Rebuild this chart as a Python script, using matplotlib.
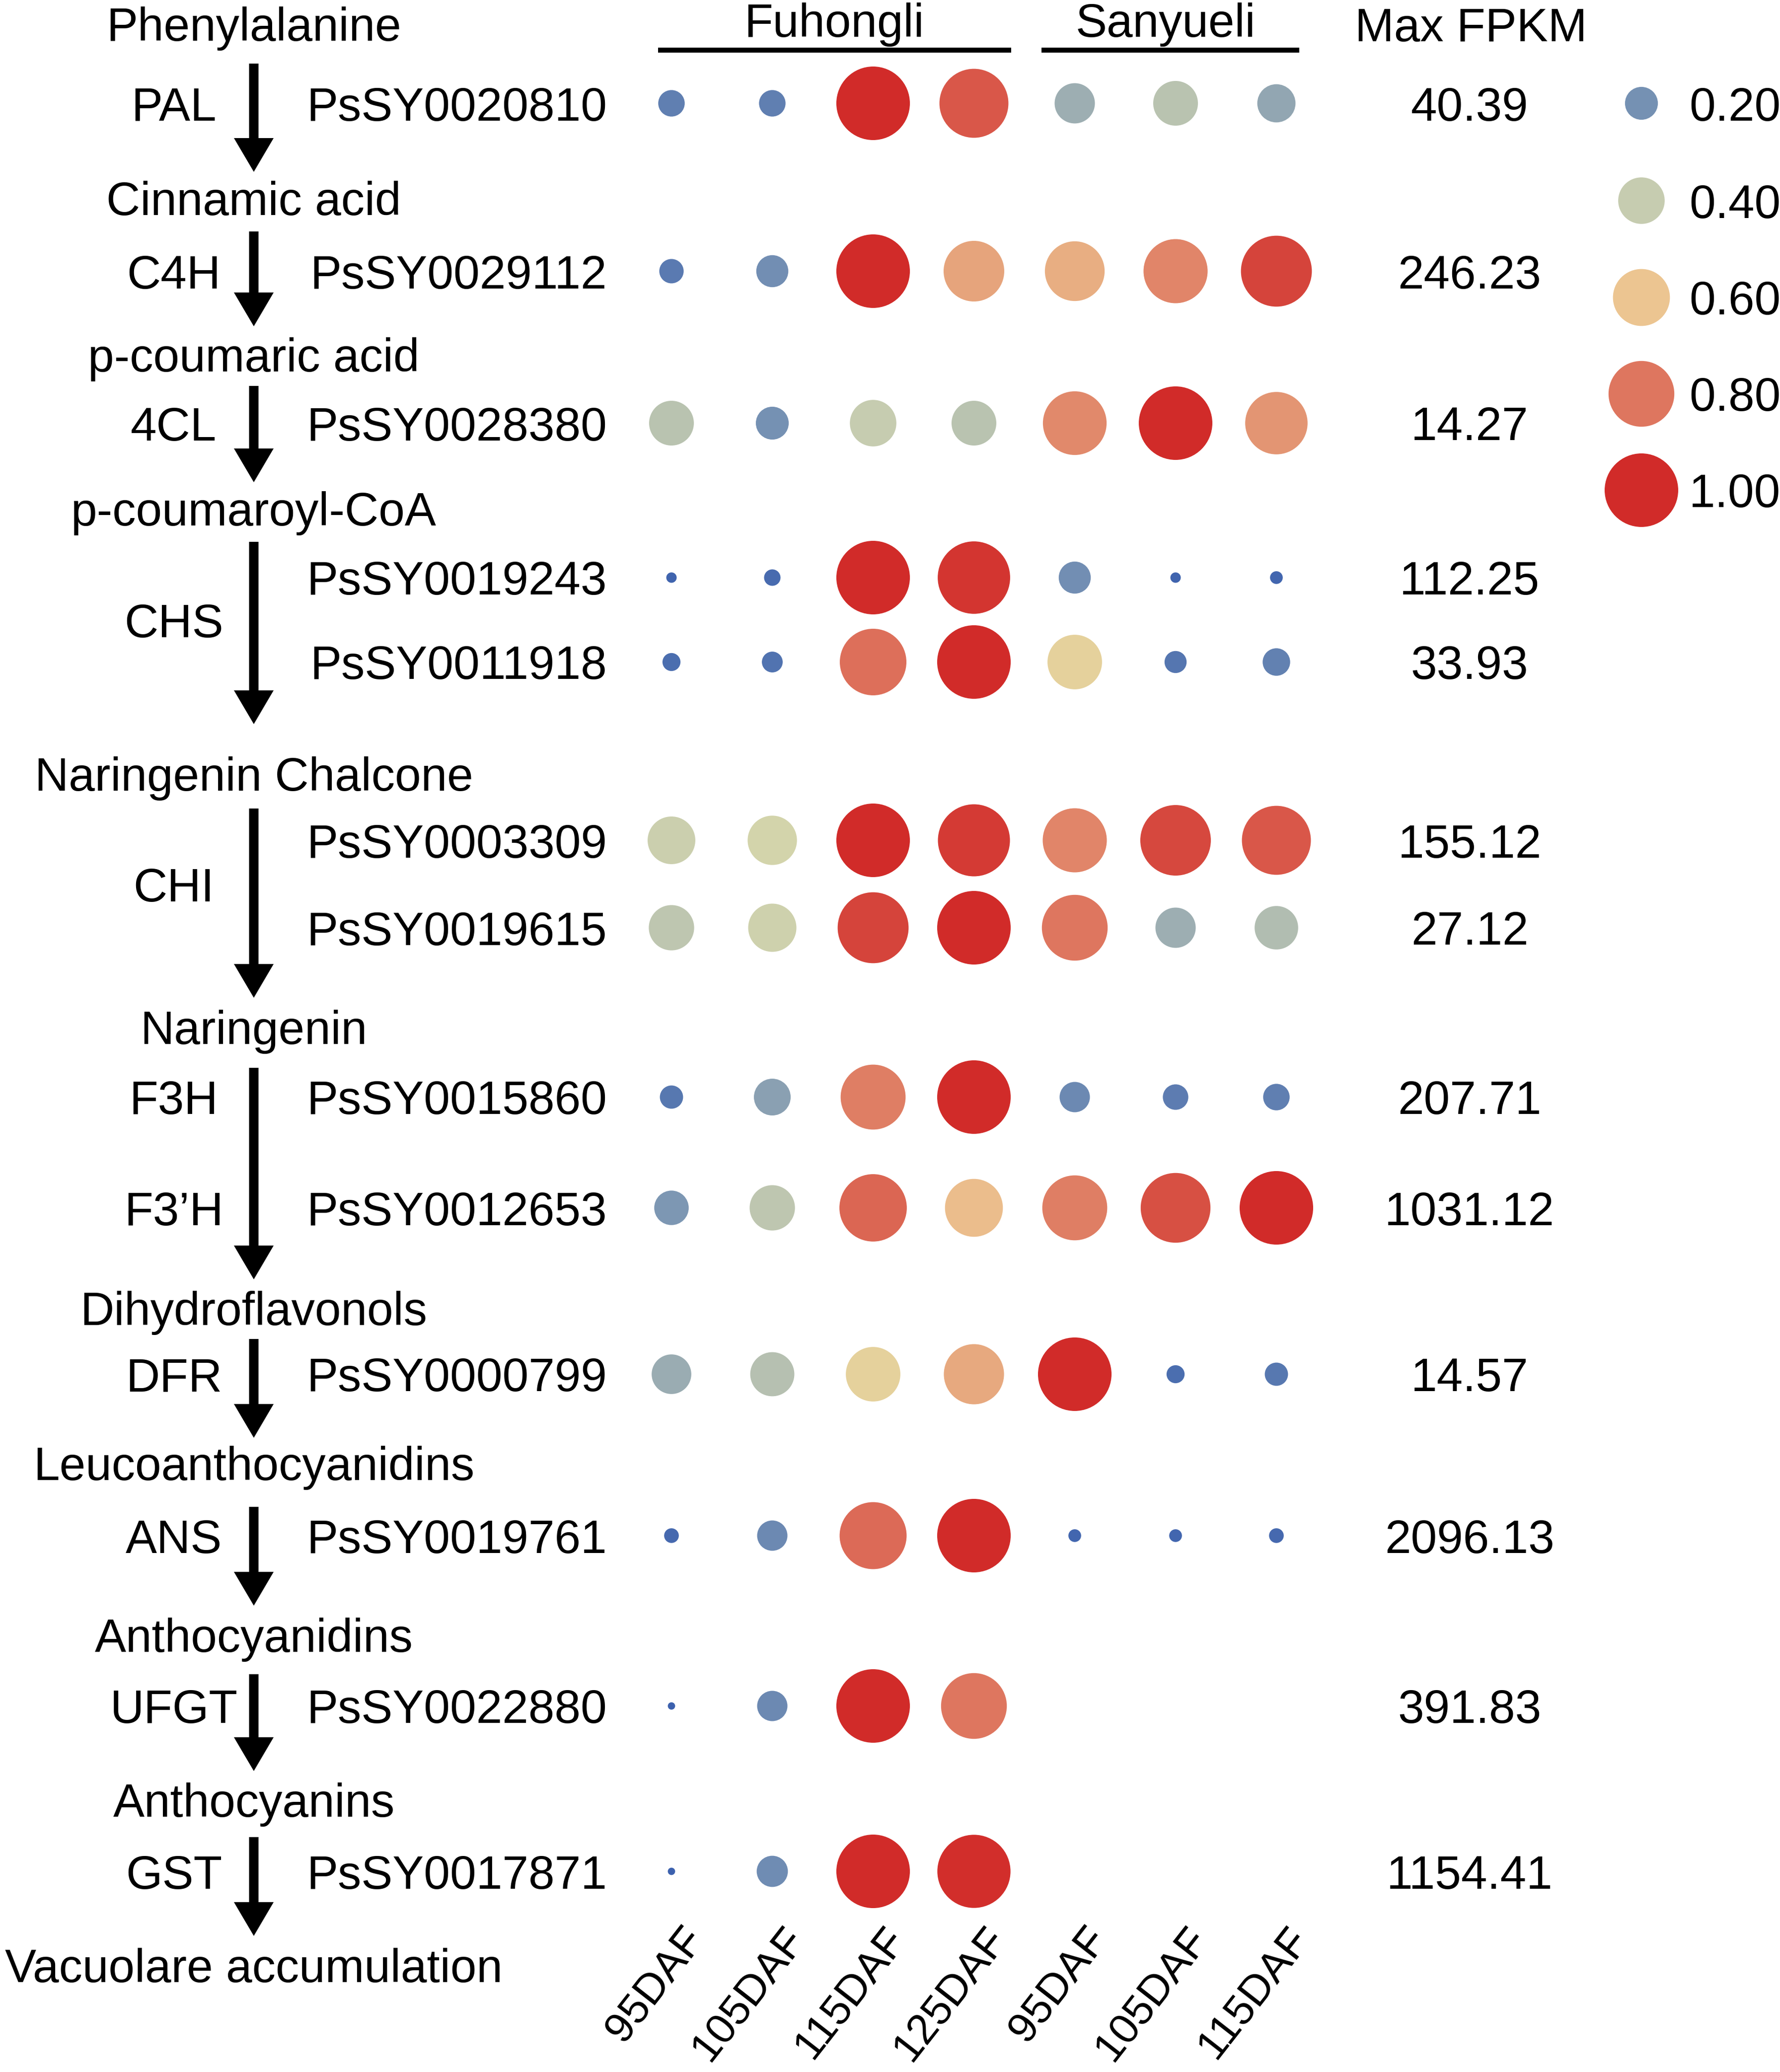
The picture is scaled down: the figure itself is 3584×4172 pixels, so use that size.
import numpy as np
import matplotlib
matplotlib.use('Agg')
from matplotlib import pyplot as plt
from matplotlib.colors import LinearSegmentedColormap

plt.rcParams['font.family'] = ['Liberation Sans', 'DejaVu Sans']

# --- data ---------------------------------------------------------------
stages = ['95DAF', '105DAF', '115DAF', '125DAF', '95DAF', '105DAF', '115DAF']
genes = ['PsSY0020810', 'PsSY0029112', 'PsSY0028380', 'PsSY0019243', 'PsSY0011918',
         'PsSY0003309', 'PsSY0019615', 'PsSY0015860', 'PsSY0012653', 'PsSY0000799',
         'PsSY0019761', 'PsSY0022880', 'PsSY0017871']
max_fpkm = ['40.39', '246.23', '14.27', '112.25', '33.93', '155.12', '27.12',
            '207.71', '1031.12', '14.57', '2096.13', '391.83', '1154.41']
# relative expression (value / max FPKM), nan = not measured
rel_expr = np.array([
    [0.13, 0.13, 1.00, 0.88, 0.30, 0.37, 0.27],
    [0.11, 0.19, 1.00, 0.68, 0.66, 0.76, 0.93],
    [0.37, 0.20, 0.40, 0.37, 0.75, 1.00, 0.72],
    [0.02, 0.05, 1.00, 0.97, 0.19, 0.02, 0.03],
    [0.06, 0.08, 0.82, 1.00, 0.55, 0.09, 0.14],
    [0.42, 0.45, 1.00, 0.96, 0.76, 0.92, 0.88],
    [0.38, 0.43, 0.93, 1.00, 0.80, 0.30, 0.35],
    [0.10, 0.25, 0.78, 1.00, 0.17, 0.12, 0.13],
    [0.22, 0.38, 0.84, 0.62, 0.78, 0.90, 1.00],
    [0.29, 0.36, 0.55, 0.67, 1.00, 0.06, 0.10],
    [0.04, 0.17, 0.83, 1.00, 0.03, 0.03, 0.04],
    [0.01, 0.17, 1.00, 0.80, np.nan, np.nan, np.nan],
    [0.01, 0.18, 1.00, 0.99, np.nan, np.nan, np.nan],
])
enzymes = ['PAL', 'C4H', '4CL', 'CHS', 'CHI', 'F3H', 'F3\u2019H', 'DFR', 'ANS', 'UFGT', 'GST']
enzyme_rows = [[0], [1], [2], [3, 4], [5, 6], [7], [8], [9], [10], [11], [12]]
compounds = ['Phenylalanine', 'Cinnamic acid', 'p-coumaric acid', 'p-coumaroyl-CoA',
             'Naringenin Chalcone', 'Naringenin', 'Dihydroflavonols',
             'Leucoanthocyanidins', 'Anthocyanidins', 'Anthocyanins',
             'Vacuolare accumulation']
legend_vals = [0.20, 0.40, 0.60, 0.80, 1.00]

# --- layout (figure pixel coordinates, y downwards) ----------------------
W, H = 3584, 4172
row_y = [208, 546, 852, 1163, 1333, 1692, 1868, 2209, 2432, 2767, 3092, 3435, 3768]
col_x0, col_dx = 1352, 203
compound_y = [48, 399, 713, 1024, 1557, 2068, 2634, 2946, 3292, 3624, 3957]
arrows = [(128, 346), (466, 657), (777, 971), (1091, 1458), (1628, 2009),
          (2150, 2576), (2696, 2895), (3034, 3233), (3371, 3566), (3699, 3898)]
path_x = 511
fs = 34
dy = 10  # text nudge so glyphs sit centred on the rows

cmap = LinearSegmentedColormap.from_list('expr', [
    (0.0, '#3a5fae'), (0.2, '#7591b3'), (0.4, '#c6ccb0'), (0.5, '#dfdca7'),
    (0.6, '#ecc591'), (0.8, '#de765f'), (1.0, '#d12b29')])
size_max = 2841  # points^2 at value 1.0


def bubble_size(v):
    return size_max * np.asarray(v)


fig = plt.figure(figsize=(W / 200, H / 200), dpi=200)
ax = fig.add_axes([0, 0, 1, 1])
ax.set_xlim(0, W)
ax.set_ylim(H, 0)
ax.axis('off')

# bubbles
xs = col_x0 + col_dx * np.arange(len(stages))
for i, g in enumerate(genes):
    vals = rel_expr[i]
    ok = ~np.isnan(vals)
    ax.scatter(xs[ok], np.full(ok.sum(), row_y[i]), s=bubble_size(vals[ok]),
               c=vals[ok], cmap=cmap, vmin=0, vmax=1, linewidths=0)
    ax.text(1222, row_y[i] + dy, g, ha='right', va='center', fontsize=fs)
    ax.text(2959, row_y[i] + dy, max_fpkm[i], ha='center', va='center', fontsize=fs)

# pathway
for name, y in zip(compounds, compound_y):
    ax.text(path_x, y + dy, name, ha='center', va='center', fontsize=fs)
for y0, y1 in arrows:
    ax.arrow(path_x, y0, 0, y1 - y0, width=19, head_width=80, head_length=68,
             length_includes_head=True, color='black', linewidth=0)
for name, rows in zip(enzymes, enzyme_rows):
    y = np.mean([row_y[r] for r in rows])
    ax.text(350, y + dy, name, ha='center', va='center', fontsize=fs)

# headers
ax.text(1680, 40 + dy, 'Fuhongli', ha='center', va='center', fontsize=fs)
ax.plot([1325, 2036], [101, 101], color='black', lw=3.6, solid_capstyle='butt')
ax.text(2347, 40 + dy, 'Sanyueli', ha='center', va='center', fontsize=fs)
ax.plot([2097, 2616], [101, 101], color='black', lw=3.6, solid_capstyle='butt')
ax.text(2962, 48 + dy, 'Max FPKM', ha='center', va='center', fontsize=fs)

# stage labels
for x, lab in zip(xs, stages):
    ax.text(x + 82, 3866, lab, rotation=52, ha='right', va='top', fontsize=31)

# legend
leg_y = [208, 404, 599, 793, 987]
ax.scatter(np.full(len(legend_vals), 3305), leg_y, s=bubble_size(legend_vals),
           c=legend_vals, cmap=cmap, vmin=0, vmax=1, linewidths=0)
for v, y in zip(legend_vals, leg_y):
    ax.text(3401, y + dy, f'{v:.2f}', ha='left', va='center', fontsize=fs)

fig.savefig('out.png', dpi=200)
